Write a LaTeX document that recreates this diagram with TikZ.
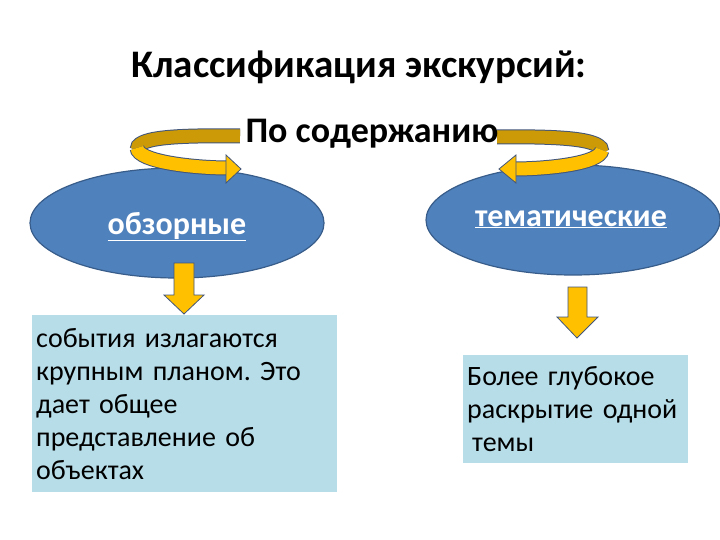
\documentclass[tikz,border=0pt]{standalone}
\usepackage{fontspec}
\setmainfont{Carlito}
\newfontfamily\notefont[WordSpace=0.7]{Carlito}
\usetikzlibrary{shapes.geometric,positioning}
\definecolor{ovalblue}{HTML}{4F81BD}
\definecolor{ovalline}{HTML}{385D8A}
\definecolor{notefill}{HTML}{B7DDE8}
\definecolor{arrowyellow}{HTML}{FFC000}
\definecolor{arrowback}{HTML}{CC9A06}
\definecolor{arrowline}{HTML}{41557A}
\frenchspacing

\begin{document}
\begin{tikzpicture}[x=1pt, y=-1pt,
    oval/.style={ellipse, draw=ovalline, line width=1.2pt, fill=ovalblue, minimum width=294pt, minimum height=110pt},
    ovaltext/.style={anchor=base, text=white, font=\fontsize{32}{38}\selectfont\bfseries},
    note/.style={rectangle, fill=notefill, anchor=north west, align=left, inner sep=4pt, font=\notefont\fontsize{28}{33}\selectfont},
    blockdown/.style={fill=arrowyellow, draw=arrowline, line width=0.8pt},
    ribbonedge/.style={draw=arrowline, line width=15pt},
    ribbonback/.style={draw=arrowback, line width=13pt},
    ribbonfront/.style={draw=arrowyellow, line width=13pt}
]
\useasboundingbox[fill=white] (0,0) rectangle (720,540);

% title
\node[anchor=base, font=\fontsize{39}{46}\selectfont\bfseries] (title) at (359,78) {Классификация экскурсий:};

% ovals
\node[oval] (review) at (177,223) {};
\node[oval] (theme) at (573,220) {};
\node[ovaltext] (reviewtext) at (177,234) {\underline{обзорные}};
\node[ovaltext] (themetext) at (571,226) {\underline{тематические}};

% curved arrows round the heading
\draw[ribbonedge] (240,136) .. controls (170,135) and (136,138) .. (137,150);
\draw[ribbonback] (240,136) .. controls (170,135) and (136,138) .. (137,150);
\draw[ribbonedge] (137,148) .. controls (138,162) and (195,168) .. (228,168);
\draw[ribbonfront] (137,148) .. controls (138,162) and (195,168) .. (228,168);
\draw[blockdown] (226,155) -- (241,169) -- (226,183) -- cycle;

\draw[ribbonedge] (497,137) .. controls (570,136) and (603,140) .. (602,152);
\draw[ribbonback] (497,137) .. controls (570,136) and (603,140) .. (602,152);
\draw[ribbonedge] (602,150) .. controls (600,164) and (545,169) .. (514,169);
\draw[ribbonfront] (602,150) .. controls (600,164) and (545,169) .. (514,169);
\draw[blockdown] (516,155) -- (499,169) -- (516,183) -- cycle;

\node[anchor=base, font=\fontsize{36}{42}\selectfont\bfseries] (content) at (372,143) {По содержанию};

% down arrows
\draw[blockdown] (174,263) -- (194,263) -- (194,295) -- (204,295) -- (184,314) -- (164,295) -- (174,295) -- cycle;
\draw[blockdown] (568,287) -- (587,287) -- (587,317) -- (598,317) -- (577,338) -- (557,317) -- (568,317) -- cycle;

% notes
\node[note, text width=297pt, minimum height=177pt] (reviewnote) at (32,315)
  {события излагаются\\крупным планом. Это\\дает общее\\представление об\\объектах};
\node[note, text width=217pt, minimum height=108pt] (themenote) at (463,355)
  {Более глубокое\\раскрытие одной\\\hspace{5pt}темы};
\end{tikzpicture}
\end{document}
